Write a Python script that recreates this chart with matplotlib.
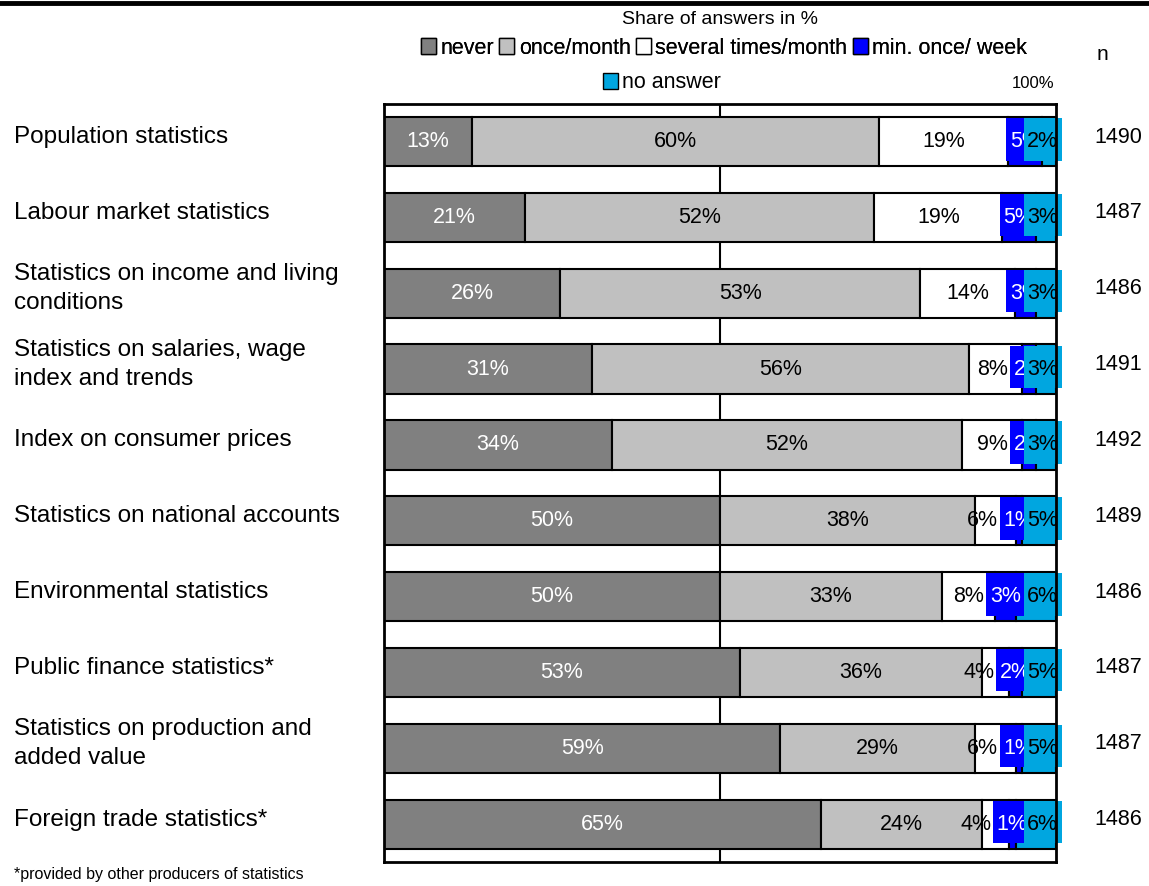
import numpy as np
import matplotlib.pyplot as plt
from matplotlib.patches import Patch, Rectangle
from matplotlib.lines import Line2D
from matplotlib.transforms import blended_transform_factory

plt.rcParams['font.family'] = ['Liberation Sans', 'DejaVu Sans']

categories = [
    "Population statistics",
    "Labour market statistics",
    "Statistics on income and living\nconditions",
    "Statistics on salaries, wage\nindex and trends",
    "Index on consumer prices",
    "Statistics on national accounts",
    "Environmental statistics",
    "Public finance statistics*",
    "Statistics on production and\nadded value",
    "Foreign trade statistics*",
]
never = [13, 21, 26, 31, 34, 50, 50, 53, 59, 65]
once_month = [60, 52, 53, 56, 52, 38, 33, 36, 29, 24]
several = [19, 19, 14, 8, 9, 6, 8, 4, 6, 4]
weekly = [5, 5, 3, 2, 2, 1, 3, 2, 1, 1]
no_answer = [2, 3, 3, 3, 3, 5, 6, 5, 5, 6]
n_values = [1490, 1487, 1486, 1491, 1492, 1489, 1486, 1487, 1487, 1486]

series = [never, once_month, several, weekly, no_answer]
names = ["never", "once/month", "several times/month", "min. once/ week", "no answer"]
colors = ["#808080", "#c0c0c0", "#ffffff", "#0000ff", "#00a6e0"]
text_colors = ["white", "black", "black", "white", "black"]

data = np.array(series, dtype=float)
shares = data / data.sum(axis=0) * 100

fig = plt.figure(figsize=(11.49, 8.86), dpi=100)
ax = fig.add_axes([0.334, 0.027, 0.585, 0.856])

y = np.arange(len(categories))
starts = np.vstack([np.zeros(len(categories)), np.cumsum(shares, axis=0)[:-1]])
for k in range(5):
    ax.barh(y, shares[k], left=starts[k], height=0.65, color=colors[k],
            edgecolor="black", linewidth=1.5, zorder=3)

label_w = 5.7    # width of a two-character label box, in % of the axis
box_h = 0.56
for i in range(len(categories)):
    # first three segments: labels centred in the segment
    for k in range(2):
        ax.text(starts[k][i] + shares[k][i] / 2, y[i], f"{series[k][i]}%",
                ha="center", va="center", color=text_colors[k], fontsize=15.5, zorder=5)
    blue_x = starts[3][i] + shares[3][i] / 2
    white_x = min(starts[2][i] + shares[2][i] / 2, blue_x - label_w + 0.3)
    ax.text(white_x, y[i], f"{several[i]}%", ha="center", va="center",
            color="black", fontsize=15.5, zorder=5)
    # weekly label with its own box
    ax.add_patch(Rectangle((blue_x - label_w / 2, y[i] - box_h / 2 - 0.03), label_w, box_h,
                           fc=colors[3], ec="none", zorder=6, clip_on=False))
    ax.text(blue_x, y[i], f"{weekly[i]}%", ha="center", va="center",
            color="white", fontsize=15.5, zorder=6)
    # no answer label, kept at the right end
    cx = 100 - label_w / 2 + 0.9
    ax.add_patch(Rectangle((cx - label_w / 2, y[i] - box_h / 2 - 0.03), label_w, box_h,
                           fc=colors[4], ec="none", zorder=7, clip_on=False))
    ax.text(cx, y[i], f"{no_answer[i]}%", ha="center", va="center",
            color="black", fontsize=15.5, zorder=7)

ax.axvline(50, color="black", lw=1.5, zorder=1)
ax.set_xlim(0, 100)
ax.set_ylim(len(categories) - 0.5, -0.5)
ax.set_xticks([])
ax.set_yticks([])
for s in ax.spines.values():
    s.set_linewidth(2)
    s.set_color("black")
    s.set_zorder(8)

# category labels and n values
tr = blended_transform_factory(fig.transFigure, ax.transData)
for i, cat in enumerate(categories):
    ax.text(14 / 1149, y[i] - 0.06, cat, transform=tr, ha="left", va="center",
            fontsize=17.5, linespacing=1.4)
    ax.text(1118 / 1149, y[i] - 0.06, str(n_values[i]), transform=tr, ha="center",
            va="center", fontsize=15.5)

fig.text(1102 / 1149, 1 - 55 / 886, "n", ha="center", va="center", fontsize=15)
fig.text(1033 / 1149, 1 - 83 / 886, "100%", ha="center", va="center", fontsize=12)

# legend
fig.text(720 / 1149, 1 - 20 / 886, "Share of answers in %", ha="center", va="center", fontsize=14)
handles = [Patch(facecolor=c, edgecolor="black", linewidth=1) for c in colors]
leg1 = fig.legend(handles[:4], names[:4], loc="center", ncol=4,
                  bbox_to_anchor=(724 / 1149, 1 - 48 / 886), frameon=False, fontsize=15.5,
                  handlelength=0.7, handleheight=0.7, handletextpad=0.2,
                  columnspacing=0.25, borderpad=0)
fig.legend(handles[4:], names[4:], loc="center", ncol=1,
           bbox_to_anchor=(662 / 1149, 1 - 83 / 886), frameon=False, fontsize=15.5,
           handlelength=0.7, handleheight=0.7, handletextpad=0.2, borderpad=0)
fig.add_artist(leg1)

# top rule and footnote
fig.add_artist(Line2D([0, 1], [1 - 3 / 886, 1 - 3 / 886], color="black", lw=3.5,
                      transform=fig.transFigure))
fig.text(14 / 1149, 1 - 875 / 886, "*provided by other producers of statistics",
         ha="left", va="center", fontsize=11.5)

fig.savefig("out.png", dpi=100)
